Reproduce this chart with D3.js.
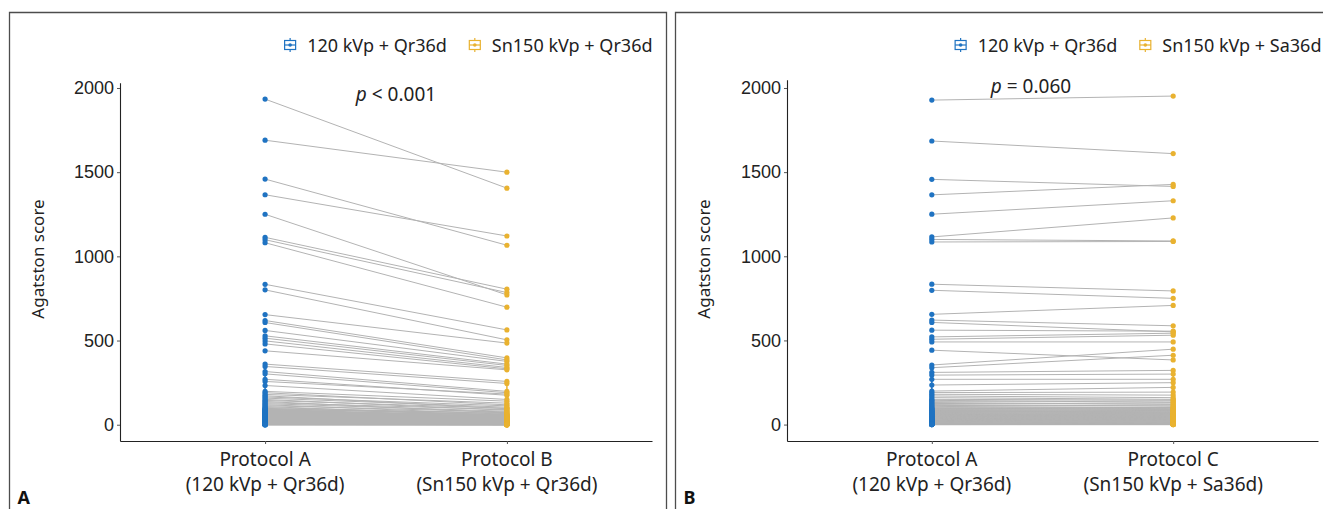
<!DOCTYPE html>
<html>
<head>
<meta charset="utf-8">
<script src="https://cdn.jsdelivr.net/npm/d3@7"></script>
<style>
  html, body { margin: 0; padding: 0; background: #fff; }
  svg { display: block; font-family: "Noto Sans", "DejaVu Sans", sans-serif; }
</style>
</head>
<body>
<svg id="chart" width="1323" height="509"></svg>
<script>
// ---- data ----
const yTicks = [0, 500, 1000, 1500, 2000];

// panel A: Protocol A vs Protocol B (paired)
const panelA_protA = [1934, 1690, 1459, 1366, 1250, 1113, 1099, 1081, 834, 801, 654, 619, 607, 560, 528, 514, 498, 480, 439, 360, 346, 316, 302, 270, 257, 233, 198, 190, 180, 172, 165, 158, 150, 144, 138, 131, 125, 119, 113, 108, 102, 97, 92, 88, 84, 79, 75, 71, 67, 63, 59, 55, 52, 48, 45, 41, 38, 35, 32, 29, 26, 24, 21, 19, 17, 15, 13, 11, 9, 8, 6, 5, 4, 3, 2, 1, 0, 0,
  96, 90, 85, 80, 76, 72, 68, 64, 60, 57, 54, 50, 47, 44, 40, 37, 34, 31, 28, 25, 22, 20, 18, 16, 14, 12, 10, 8, 7, 5, 4, 3, 2, 1, 0, 0];
const panelA_protB = [1405, 1500, 1066, 1121, 771, 805, 785, 698, 563, 504, 485, 397, 385, 376, 360, 352, 340, 332, 326, 257, 245, 198, 190, 175, 182, 150, 140, 118, 128, 95, 112, 104, 86, 98, 70, 90, 80, 62, 76, 52, 66, 58, 44, 55, 40, 48, 36, 42, 30, 34, 22, 28, 26, 18, 24, 20, 12, 16, 10, 14, 7, 9, 8, 5, 6, 3, 4, 3, 2, 2, 1, 1, 1, 0, 0, 0, 0, 0,
  60, 72, 50, 58, 44, 52, 38, 46, 34, 40, 28, 33, 26, 30, 20, 24, 18, 22, 14, 16, 12, 15, 10, 11, 8, 9, 6, 5, 4, 3, 3, 2, 1, 1, 0, 0];

// panel B: Protocol A vs Protocol C (paired)
const panelB_protA = [1928, 1685, 1457, 1365, 1250, 1115, 1100, 1085, 834, 798, 655, 621, 607, 561, 521, 507, 491, 442, 354, 338, 310, 294, 269, 235, 199, 190, 180, 170, 160, 150, 144, 138, 131, 125, 119, 113, 108, 102, 97, 92, 88, 84, 79, 75, 71, 67, 63, 59, 55, 52, 48, 45, 41, 38, 35, 32, 29, 26, 24, 21, 19, 17, 15, 13, 11, 9, 8, 6, 5, 4, 3, 2, 1, 0, 0,
  95, 89, 83, 78, 74, 70, 66, 62, 58, 55, 51, 47, 43, 39, 36, 33, 30, 27, 24, 21, 18, 16, 14, 12, 10, 8, 6, 5, 3, 2, 1, 0, 0];
const panelB_protC = [1952, 1610, 1415, 1427, 1330, 1228, 1091, 1088, 794, 750, 708, 587, 551, 555, 543, 531, 491, 384, 448, 412, 322, 300, 269, 249, 221, 193, 175, 160, 150, 145, 132, 140, 120, 128, 110, 116, 100, 104, 92, 96, 84, 88, 76, 80, 66, 72, 60, 64, 52, 56, 46, 50, 40, 42, 36, 30, 32, 24, 26, 20, 22, 16, 14, 12, 10, 9, 7, 6, 4, 4, 3, 2, 1, 0, 0,
  102, 84, 90, 70, 80, 64, 72, 56, 60, 50, 54, 42, 48, 36, 40, 30, 34, 25, 28, 20, 22, 15, 17, 12, 11, 8, 7, 5, 4, 2, 1, 1, 0];

const panels = [
  { id: 'A', frameX: 9.5, frameW: 657, plotL: 120, plotR: 652,
    cats: ['Protocol A', 'Protocol B'],
    catSub: ['(120 kVp + Qr36d)', '(Sn150 kVp + Qr36d)'],
    legend: ['120 kVp + Qr36d', 'Sn150 kVp + Qr36d'],
    p: { op: '< 0.001', x: 396, y: 101 },
    v1: panelA_protA, v2: panelA_protB },
  { id: 'B', frameX: 675.5, frameW: 660, plotL: 787, plotR: 1318,
    cats: ['Protocol A', 'Protocol C'],
    catSub: ['(120 kVp + Qr36d)', '(Sn150 kVp + Sa36d)'],
    legend: ['120 kVp + Qr36d', 'Sn150 kVp + Sa36d'],
    p: { op: '= 0.060', x: 1031, y: 93 },
    v1: panelB_protA, v2: panelB_protC }
];

const BLUE = '#1f73c2';
const YELLOW = '#e9b230';
const LINE = '#b3b3b3';
const AXIS_FONT = 18;
const LEGEND_FONT = 18;

const svg = d3.select('#chart');

panels.forEach(P => {
  const g = svg.append('g');

  // outer frame, open at the bottom
  g.append('path')
    .attr('d', `M${P.frameX},509 V12.5 H${P.frameX + P.frameW} V509`)
    .attr('fill', 'none').attr('stroke', '#4d4d4d').attr('stroke-width', 1.3);

  const maxV = d3.max(P.v1.concat(P.v2));
  const pad = maxV * 0.05;
  const top = 425 - (maxV + pad) * (337 / 2000);
  const y = d3.scaleLinear().domain([-pad, maxV + pad]).range([441, top]);

  const x = d3.scalePoint().domain(P.cats).range([P.plotL, P.plotR]).padding(0.6);

  // axes
  g.append('g')
    .attr('transform', `translate(${P.plotL},0)`)
    .call(d3.axisLeft(y).tickValues(yTicks).tickFormat(d3.format('d')).tickSize(3).tickSizeOuter(0))
    .call(ax => ax.select('.domain').attr('stroke', '#222').attr('stroke-width', 1.1))
    .call(ax => ax.selectAll('line').attr('stroke', '#555'))
    .call(ax => ax.selectAll('text').attr('fill', '#222').attr('font-size', AXIS_FONT).attr('x', -6));

  const gx = g.append('g')
    .attr('transform', `translate(0,441)`)
    .call(d3.axisBottom(x).tickSize(3).tickSizeOuter(0))
    .call(ax => ax.select('.domain').attr('stroke', '#222').attr('stroke-width', 1.1))
    .call(ax => ax.selectAll('line').attr('stroke', '#555'));
  gx.selectAll('text').remove();
  P.cats.forEach((c, i) => {
    const t = g.append('text')
      .attr('x', x(c)).attr('text-anchor', 'middle')
      .attr('fill', '#222').attr('font-size', AXIS_FONT + 1);
    t.append('tspan').attr('x', x(c)).attr('y', 466).text(c);
    t.append('tspan').attr('x', x(c)).attr('y', 491).text(P.catSub[i]);
  });

  // y title
  g.append('text')
    .attr('transform', `translate(${P.frameX + 34},259) rotate(-90)`)
    .attr('text-anchor', 'middle').attr('fill', '#222').attr('font-size', AXIS_FONT - 1)
    .text('Agatston score');

  // panel letter
  g.append('text')
    .attr('x', P.frameX + 8).attr('y', 504)
    .attr('font-weight', 'bold').attr('font-size', 18).attr('fill', '#111')
    .text(P.id);

  // paired lines
  const pairs = P.v1.map((v, i) => [v, P.v2[i]]);
  g.append('g').selectAll('line')
    .data(pairs).join('line')
    .attr('x1', x(P.cats[0])).attr('x2', x(P.cats[1]))
    .attr('y1', d => y(d[0])).attr('y2', d => y(d[1]))
    .attr('stroke', LINE).attr('stroke-width', 1);

  // thin boxplot whiskers
  [[P.v1, BLUE, P.cats[0]], [P.v2, YELLOW, P.cats[1]]].forEach(([vals, col, cat]) => {
    const s = vals.slice().sort(d3.ascending);
    const q1 = d3.quantile(s, 0.25), q3 = d3.quantile(s, 0.75);
    const hi = d3.max(s.filter(v => v <= q3 + 1.5 * (q3 - q1)));
    g.append('line')
      .attr('x1', x(cat)).attr('x2', x(cat))
      .attr('y1', y(d3.min(s))).attr('y2', y(hi))
      .attr('stroke', col).attr('stroke-width', 1.5);
  });

  // points
  g.append('g').selectAll('circle')
    .data(P.v1).join('circle')
    .attr('cx', x(P.cats[0])).attr('cy', d => y(d)).attr('r', 2.6).attr('fill', BLUE);
  g.append('g').selectAll('circle')
    .data(P.v2).join('circle')
    .attr('cx', x(P.cats[1])).attr('cy', d => y(d)).attr('r', 2.6).attr('fill', YELLOW);

  // p value
  const pt = g.append('text')
    .attr('x', P.p.x).attr('y', P.p.y).attr('text-anchor', 'middle')
    .attr('font-size', 19).attr('fill', '#222');
  pt.append('tspan').attr('font-style', 'italic').text('p');
  pt.append('tspan').text(' ' + P.p.op);

  // legend, right aligned
  const lg = g.append('g');
  const items = [[P.legend[0], BLUE], [P.legend[1], YELLOW]];
  let cursor = P.frameX + P.frameW - 14;
  for (let i = items.length - 1; i >= 0; i--) {
    const [label, col] = items[i];
    const t = lg.append('text')
      .attr('x', cursor).attr('y', 52).attr('text-anchor', 'end')
      .attr('font-size', LEGEND_FONT).attr('fill', '#222').text(label);
    const w = t.node().getComputedTextLength();
    const ix = cursor - w - 23;
    const key = lg.append('g').attr('transform', `translate(${ix},45)`);
    key.append('line').attr('x1', 6).attr('x2', 6).attr('y1', -7).attr('y2', 7).attr('stroke', col).attr('stroke-width', 1.2);
    key.append('rect').attr('x', 0.5).attr('y', -4.5).attr('width', 11).attr('height', 9)
      .attr('fill', '#fff').attr('stroke', col).attr('stroke-width', 1.2);
    key.append('line').attr('x1', 0.5).attr('x2', 11.5).attr('y1', 0).attr('y2', 0).attr('stroke', col).attr('stroke-width', 1.2);
    key.append('circle').attr('cx', 6).attr('cy', 0).attr('r', 1.8).attr('fill', col);
    cursor = ix - 22;
  }
});
</script>
</body>
</html>
